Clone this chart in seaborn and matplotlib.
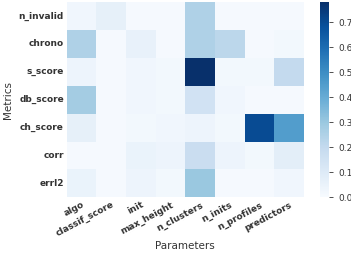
import pandas as pd
import seaborn as sns
import matplotlib.pyplot as plt

metrics = ['n_invalid', 'chrono', 's_score', 'db_score', 'ch_score', 'corr', 'errl2']
params = ['algo', 'classif_score', 'init', 'max_height', 'n_clusters', 'n_inits', 'n_profiles', 'predictors']

n_invalid = [0.03, 0.07, 0.01, 0.01, 0.25, 0.01, 0.01, 0.01]
chrono = [0.25, 0.01, 0.06, 0.01, 0.25, 0.22, 0.01, 0.02]
s_score = [0.04, 0.01, 0.03, 0.02, 0.78, 0.02, 0.02, 0.20]
db_score = [0.28, 0.01, 0.03, 0.02, 0.15, 0.03, 0.01, 0.01]
ch_score = [0.07, 0.01, 0.02, 0.03, 0.04, 0.02, 0.70, 0.45]
corr = [0.01, 0.01, 0.05, 0.04, 0.18, 0.04, 0.02, 0.08]
errl2 = [0.05, 0.01, 0.04, 0.02, 0.30, 0.01, 0.01, 0.03]

df = pd.DataFrame([n_invalid, chrono, s_score, db_score, ch_score, corr, errl2],
                  index=metrics, columns=params)

sns.set_style('white')
fig = plt.figure(figsize=(3.51, 2.58), dpi=100)
ax = fig.add_axes([0.19, 0.235, 0.676, 0.757])
cax = fig.add_axes([0.913, 0.235, 0.025, 0.757])

sns.heatmap(df, cmap='Blues', vmin=0, vmax=0.78, ax=ax, cbar_ax=cax)

ax.set_xlabel('Parameters', fontsize=7.5, color='#333333', labelpad=2)
ax.set_ylabel('Metrics', fontsize=7.5, color='#333333')
ax.tick_params(length=0, pad=2)
plt.setp(ax.get_yticklabels(), rotation=0, fontsize=6.5, fontweight='bold', color='#333333')
plt.setp(ax.get_xticklabels(), rotation=28, ha='right', rotation_mode='anchor', fontsize=6.5,
         fontweight='bold', color='#333333')
cax.tick_params(labelsize=6.5, length=3, width=0.6, colors='#333333')
cax.set_yticks([0.0, 0.1, 0.2, 0.3, 0.4, 0.5, 0.6, 0.7])

fig.savefig('out.png', dpi=100)
